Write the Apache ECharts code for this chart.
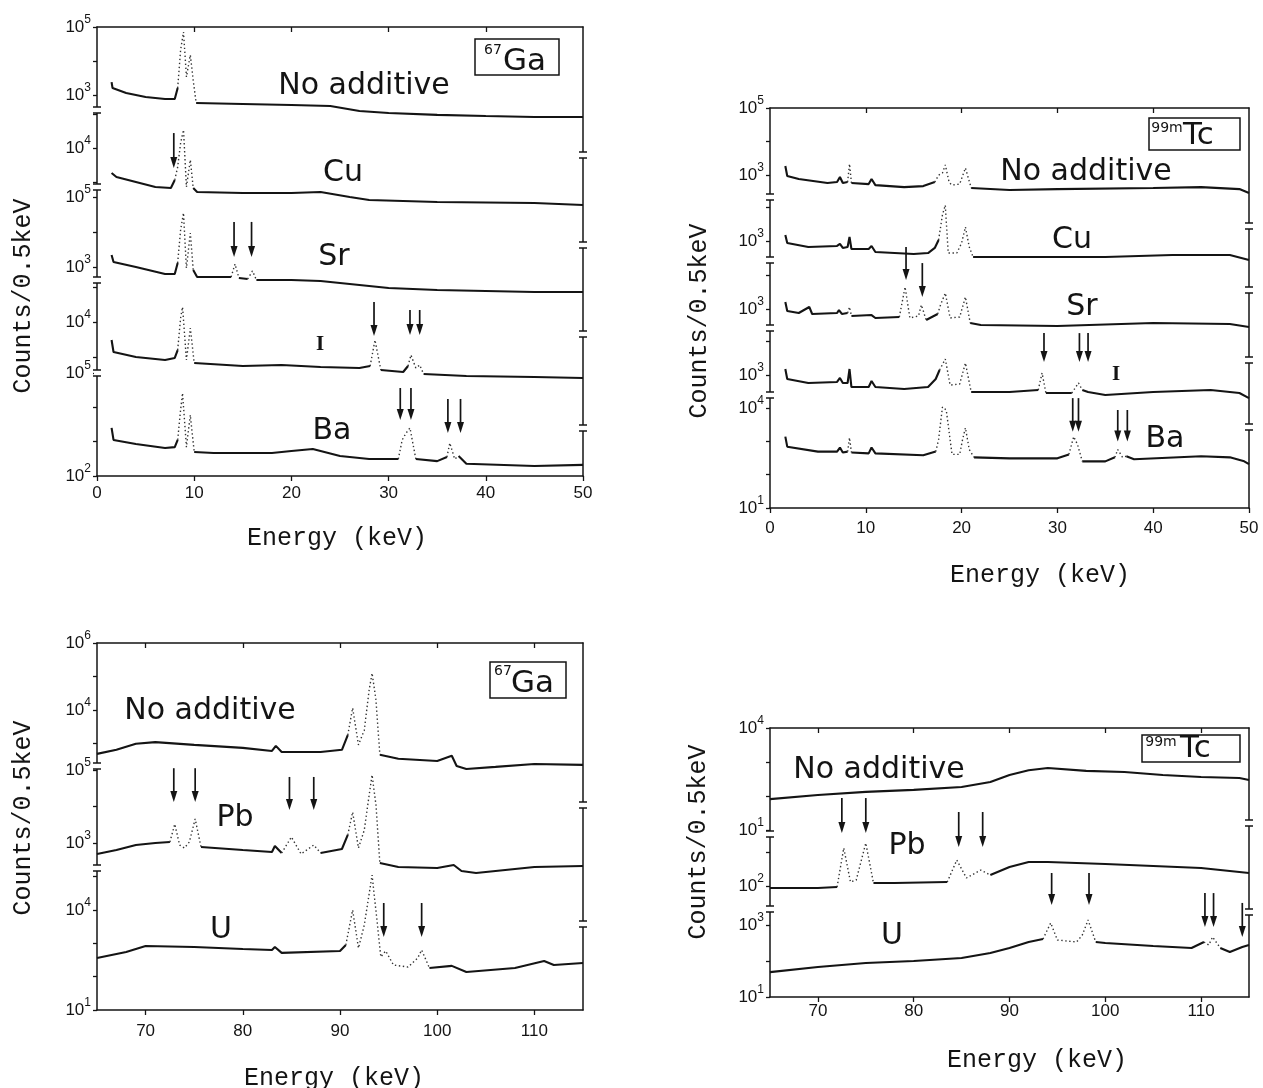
<!DOCTYPE html>
<html><head><meta charset="utf-8">
<script src="https://cdn.jsdelivr.net/npm/echarts@6/dist/echarts.min.js"></script>
<style>html,body{margin:0;padding:0;background:#fff}#c{width:1263px;height:1088px}</style>
</head><body><div id="c"></div>
<script>
// ---------- DATA: [energy keV, counts / 0.5 keV] ----------
// 67Ga, 0-50 keV
const ga_none = [[1.5,2400],[1.6,1600],[3,1150],[5,870],[7,760],[8,760],[8.3,1600],[8.6,21000],[8.9,71000],[9.2,3400],[9.6,15000],[9.9,2700],[10.2,580],[15,545],[20,510],[24,475],[27,340],[30,297],[35,260],[40,240],[45,225],[50,225]];
const ga_cu = [[1.5,1840],[2,1400],[4,1000],[6,713],[7.6,665],[8.0,1150],[8.3,2760],[8.6,14000],[8.9,34000],[9.2,713],[9.6,4450],[9.9,665],[10.3,510],[15,475],[20,475],[23,510],[26,363],[28,296],[35,258],[45,241],[50,210]];
const ga_sr = [[1.5,2200],[1.7,1390],[4,1000],[7,630],[8,630],[8.3,1300],[8.6,11400],[8.9,35000],[9.2,935],[9.6,9300],[9.9,820],[10.3,520],[13.8,520],[14.2,1220],[14.6,485],[15.5,455],[16,770],[16.4,425],[20,425],[23,400],[27,306],[30,250],[35,220],[45,193],[50,193]];
const ga_i = [[1.5,3060],[1.7,1390],[4,1000],[7,820],[8,940],[8.3,1580],[8.6,13000],[8.8,26800],[9.2,820],[9.6,6700],[10,675],[15,553],[19,590],[23,518],[27,485],[28.1,553],[28.6,3060],[29.2,425],[31.5,372],[32,553],[32.3,1140],[32.8,485],[33.2,590],[33.6,326],[38,286],[45,268],[50,250]];
const ga_ba = [[1.5,2500],[1.7,1120],[4,850],[7,650],[8,690],[8.3,1120],[8.6,8300],[8.8,26000],[9.2,690],[9.6,5970],[10,500],[12,466],[18,466],[20,532],[22.2,610],[25,380],[28,310],[31,310],[31.4,1120],[31.8,1780],[32.2,2500],[32.8,310],[35,270],[36,355],[36.3,910],[36.8,310],[37.2,380],[38,225],[45,195],[50,210]];
// 99mTc, 0-50 keV
const tc_none = [[1.6,1860],[1.8,930],[3,760],[6,575],[7,615],[7.3,870],[7.6,575],[8.1,615],[8.3,2140],[8.5,575],[10.3,535],[10.6,760],[11,500],[14,435],[16,467],[17.2,615],[17.6,990],[18.0,1150],[18.3,2000],[18.7,600],[19.0,500],[19.8,535],[20.4,1620],[21.0,410],[25,355],[30,380],[40,410],[45,435],[49,380],[50,290]];
const tc_cu = [[1.6,1510],[1.8,870],[4,660],[7,710],[7.3,815],[7.6,620],[8.1,660],[8.3,1320],[8.5,577],[10.3,577],[10.6,710],[11,470],[15,410],[16.5,437],[17.2,620],[17.6,1070],[18.0,6000],[18.3,11800],[18.6,437],[19.5,437],[20.0,870],[20.4,2620],[20.8,660],[21.2,333],[25,333],[35,333],[42,382],[48,382],[50,270]];
const tc_sr = [[1.6,1620],[1.8,870],[3,760],[4.1,1150],[4.4,710],[7,760],[7.2,930],[7.5,710],[8.1,760],[8.3,1150],[8.5,620],[10.6,660],[11,540],[13.5,577],[14.1,4540],[14.6,540],[15.5,620],[15.8,1320],[16.3,470],[17.5,710],[17.8,1320],[18.3,3000],[18.8,540],[19.8,577],[20.4,2280],[20.9,382],[22,333],[30,310],[40,382],[48,357],[50,290]];
const tc_i = [[1.6,1510],[1.8,760],[4,577],[7,620],[7.3,815],[7.6,577],[8.1,577],[8.3,1510],[8.5,437],[10.3,437],[10.6,660],[11,437],[14,382],[16.5,437],[17.3,760],[17.7,1410],[18.3,3000],[18.8,500],[19.0,470],[19.8,540],[20.4,2280],[21.0,310],[25,310],[28,357],[28.4,1150],[28.8,290],[31.5,290],[32.2,577],[32.6,357],[33.2,310],[35,252],[40,310],[46,357],[49,290],[50,205]];
const tc_ba = [[1.6,1380],[1.8,690],[5,490],[7,490],[7.3,650],[7.6,460],[8.1,490],[8.3,1290],[8.5,460],[10.3,433],[10.6,650],[11,433],[16,380],[17.3,490],[17.6,1120],[18.0,10700],[18.4,8700],[18.8,1120],[19.0,404],[19.8,404],[20.1,1120],[20.4,2550],[20.8,565],[21.3,330],[25,308],[30,308],[31.2,404],[31.7,1380],[32.1,800],[32.6,250],[35,250],[36.0,330],[36.3,565],[36.8,330],[37.2,355],[38,290],[45,355],[48,330],[49.5,250],[50,205]];
// 67Ga, 65-115 keV
const gah_none = [[65,490],[67,650],[69,980],[71,1100],[75,910],[80,740],[83,600],[83.4,850],[84,560],[88,560],[90.2,650],[90.8,1780],[91.3,11500],[91.9,910],[92.5,2500],[93.0,40000],[93.3,126000],[93.7,20000],[94.1,460],[96,350],[100,300],[101.5,430],[102,213],[103,174],[106,200],[110,245],[115,230]];
const gah_pb = [[65,500],[67,640],[69,880],[71,1000],[72.5,1065],[73.0,3300],[73.5,880],[74.0,730],[74.5,1065],[75.1,4540],[75.7,775],[80,640],[83,567],[83.3,830],[84,533],[85,1460],[86,500],[87.3,880],[88,533],[90.2,685],[90.8,1660],[91.3,7060],[91.9,730],[92.5,2270],[93.0,20600],[93.3,73000],[93.7,11000],[94.1,283],[96,220],[100,207],[101.7,250],[102.5,171],[104,150],[110,220],[115,235]];
const gah_u = [[65,363],[68,550],[70,830],[75,775],[80,675],[83,630],[83.3,775],[84,515],[90,590],[90.6,890],[91.3,10000],[91.9,720],[92.5,3550],[93.3,112000],[93.8,5000],[94.2,390],[94.7,590],[95.5,223],[97,194],[98,363],[98.4,630],[99.2,182],[101.5,210],[103,138],[108,182],[111,294],[112,223],[115,256]];
// 99mTc, 65-115 keV
const tch_none = [[65,81],[70,107],[75,132],[80,151],[85,183],[88,258],[90,414],[92,575],[94,665],[98,547],[102,510],[106,414],[110,362],[114,338],[115,294]];
const tch_pb = [[65,87],[70,87],[72,93],[72.7,1310],[73.4,131],[74,150],[75,1830],[75.8,122],[78,122],[83.5,131],[84.5,580],[85.5,172],[87,295],[88,210],[90,362],[92,510],[94,510],[100,443],[105,388],[110,338],[115,240]];
const tch_u = [[65,49],[70,68],[75,88],[80,100],[85,121],[88,167],[90,230],[92,337],[93.5,408],[94.3,1140],[95,383],[97,337],[97.6,527],[98.2,1380],[99,337],[100,316],[105,261],[109,230],[110.3,337],[110.8,278],[111.2,464],[112,230],[113,178],[114.3,245],[115,278]];

// arrows: [energy, tail counts, tip counts]
const ga_cu_arrows = [[7.9,27500,2600]];
const ga_sr_arrows = [[14.1,19400,1940],[15.9,19400,1940]];
const ga_i_arrows = [[28.5,37300,4000],[32.2,22000,4250],[33.2,22000,4250]];
const ga_ba_arrows = [[31.2,36500,4240],[32.3,36500,4240],[36.1,17500,1780],[37.4,17500,1780]];
const tc_sr_arrows = [[14.2,71000,7400],[15.9,23500,2280]];
const tc_i_arrows = [[28.6,17800,2450],[32.3,17800,2450],[33.2,17800,2450]];
const tc_ba_arrows = [[31.6,19800,1940],[32.2,19800,1940],[36.3,8720,980],[37.3,8720,980]];
const gah_pb_arrows = [[72.9,112000,13200],[75.1,112000,13200],[84.8,64500,8000],[87.3,64500,8000]];
const gah_u_arrows = [[94.5,16200,1550],[98.4,16200,1550]];
const tch_pb_arrows = [[72.5,38600,3630],[75.0,38600,3630],[84.7,15000,1410],[87.2,15000,1410]];
const tch_u_arrows = [[94.4,27800,3600],[98.3,27800,3600],[110.4,7700,880],[111.3,7700,880],[114.3,4100,464]];

// tick labels
const xLabelsLow = [0,10,20,30,40,50];
const xLabelsHigh = [70,80,90,100,110];

// ---------- LAYOUT ----------
const INK = '#141414';
const panels = [
 {left:97,right:583,top:27,bottom:476,xmin:0,xmax:50,xl:xLabelsLow,xt:xLabelsLow,tt:[10,20,30,40],xm:9,
  lb:[110,187,280,373], rb:[155,245,334,428],
  segs:[
   {top:27,bottom:110,dec:5,ref:27,ppd:34,labels:[5,3],ticks:[3,4,5],data:ga_none,dot:[[8.2,10.1]],arrows:[]},
   {top:110,bottom:187,dec:4,ref:148,ppd:34,labels:[4],ticks:[3,4,5],data:ga_cu,dot:[[7.9,10.1]],arrows:ga_cu_arrows},
   {top:187,bottom:280,dec:5,ref:197,ppd:35,labels:[5,3],ticks:[3,4,5],data:ga_sr,dot:[[8.2,10.1],[13.9,14.6],[15.6,16.4]],arrows:ga_sr_arrows},
   {top:280,bottom:373,dec:4,ref:322,ppd:35,labels:[4],ticks:[3,4,5],data:ga_i,dot:[[8.2,10.1],[28.0,29.3],[31.8,33.5]],arrows:ga_i_arrows},
   {top:373,bottom:476,dec:5,ref:373,ppd:34.3,labels:[5,2],ticks:[2,3,4,5],data:ga_ba,dot:[[8.2,10.1],[31.0,32.9],[35.8,37.5]],arrows:ga_ba_arrows}
  ],
  texts:[['No additive',364,86],['Cu',343,173],['Sr',334,257],['Ba',332,431]],
  serifI:[320,345],
  box:{x1:475,y1:39,x2:559,y2:75,sup:'67',sx:493,sy:50,main:'Ga',mx:503,my:62},
  ytitle:[23,296], xtitle:[337,538]},
 {left:770,right:1249,top:108,bottom:508,xmin:0,xmax:50,xl:xLabelsLow,xt:xLabelsLow,tt:[10,20,30,40],xm:12,
  lb:[197,260,328,395], rb:[226,290,360,427],
  segs:[
   {top:108,bottom:197,dec:5,ref:108,ppd:33.5,labels:[5,3],ticks:[3,4,5],data:tc_none,dot:[[8.1,8.6],[17.2,21.1]],arrows:[]},
   {top:197,bottom:260,dec:3,ref:241,ppd:33.5,labels:[3],ticks:[3,4],data:tc_cu,dot:[[17.4,21.2]],arrows:[]},
   {top:260,bottom:328,dec:3,ref:309,ppd:33.5,labels:[3],ticks:[3,4],data:tc_sr,dot:[[8.1,8.6],[13.7,16.4],[17.6,21.0]],arrows:tc_sr_arrows},
   {top:328,bottom:395,dec:3,ref:375,ppd:33.5,labels:[3],ticks:[3,4],data:tc_i,dot:[[17.5,21.0],[28.1,28.9],[31.8,32.7]],arrows:tc_i_arrows},
   {top:395,bottom:508,dec:4,ref:408,ppd:33.3,labels:[4,1],ticks:[1,2,3,4],data:tc_ba,dot:[[8.1,8.6],[17.4,21.3],[31.1,32.7],[36.0,37.3]],arrows:tc_ba_arrows}
  ],
  texts:[['No additive',1086,172],['Cu',1072,240],['Sr',1082,307],['Ba',1165,439]],
  serifI:[1116,375],
  box:{x1:1149,y1:118,x2:1240,y2:150,sup:'99m',sx:1167,sy:128,main:'Tc',mx:1183,my:136},
  ytitle:[699,321], xtitle:[1040,575]},
 {left:97,right:583,top:643,bottom:1010,xmin:65,xmax:115,xl:xLabelsHigh,xt:xLabelsHigh,tt:xLabelsHigh,xm:13,
  lb:[766,868], rb:[805,924],
  segs:[
   {top:643,bottom:766,dec:6,ref:643,ppd:33.5,labels:[6,4],ticks:[3,4,5,6],data:gah_none,dot:[[90.5,94.2]],arrows:[]},
   {top:766,bottom:868,dec:3,ref:843,ppd:36.5,labels:[5,3],ticks:[3,4,5],data:gah_pb,dot:[[72.6,75.8],[84.2,88.0],[90.5,94.2]],arrows:gah_pb_arrows},
   {top:868,bottom:1010,dec:4,ref:910,ppd:33.3,labels:[4,1],ticks:[1,2,3,4,5],data:gah_u,dot:[[90.5,99.3]],arrows:gah_u_arrows}
  ],
  texts:[['No additive',210,711],['Pb',235,818],['U',221,930]],
  serifI:null,
  box:{x1:490,y1:662,x2:566,y2:698,sup:'67',sx:503,sy:671,main:'Ga',mx:511,my:684},
  ytitle:[23,818], xtitle:[334,1078]},
 {left:770,right:1249,top:728,bottom:997,xmin:65,xmax:115,xl:xLabelsHigh,xt:xLabelsHigh,tt:xLabelsHigh,xm:6,
  lb:[834,909], rb:[823,912],
  segs:[
   {top:728,bottom:834,dec:4,ref:728,ppd:34,labels:[4,1],ticks:[1,2,3,4],data:tch_none,dot:[],arrows:[]},
   {top:834,bottom:909,dec:2,ref:886,ppd:34,labels:[2],ticks:[2,3],data:tch_pb,dot:[[72.0,76.0],[83.8,87.8]],arrows:tch_pb_arrows},
   {top:909,bottom:997,dec:3,ref:925,ppd:36,labels:[3,1],ticks:[1,2,3],data:tch_u,dot:[[93.5,99.0],[110.0,111.8]],arrows:tch_u_arrows}
  ],
  texts:[['No additive',879,770],['Pb',907,846],['U',892,936]],
  serifI:null,
  box:{x1:1142,y1:735,x2:1240,y2:762,sup:'99m',sx:1161,sy:742,main:'Tc',mx:1180,my:749},
  ytitle:[698,842], xtitle:[1037,1060]}
];

function splitDotted(points, ranges) {
  const inside = e => ranges.some(r => e > r[0] && e < r[1]);
  const solid = [], dotted = [];
  const last = {s: -1, d: -1};
  for (let i = 0; i < points.length - 1; i++) {
    const a = points[i], b = points[i + 1];
    const isDot = inside((a[0] + b[0]) / 2);
    const arr = isDot ? dotted : solid;
    const k = isDot ? 'd' : 's';
    if (last[k] !== i) {
      if (arr.length) arr.push([a[0], '-']);
      arr.push(a);
    }
    arr.push(b);
    last[k] = i + 1;
  }
  return {solid, dotted};
}

function renderArrow(params, api) {
  const e = api.value(0);
  const p1 = api.coord([e, api.value(1)]);
  const p2 = api.coord([e, api.value(2)]);
  const hw = 3.5, hl = 11;
  return {type:'group', children:[
    {type:'line', shape:{x1:p1[0], y1:p1[1], x2:p2[0], y2:p2[1] - hl + 2}, style:{stroke:INK, lineWidth:1.7}},
    {type:'polygon', shape:{points:[[p2[0] - hw, p2[1] - hl], [p2[0] + hw, p2[1] - hl], [p2[0], p2[1]]]}, style:{fill:INK}}
  ]};
}

const grids = [], xAxes = [], yAxes = [], series = [], graphics = [];
const lineW = 1.5;

function breakMark(x, y) {
  graphics.push({type:'rect', z:100, shape:{x:x-3, y:y-3, width:6, height:6}, style:{fill:'#fff'}});
  graphics.push({type:'line', z:101, shape:{x1:x-4, y1:y-3, x2:x+4, y2:y-3}, style:{stroke:INK, lineWidth:1.5}});
  graphics.push({type:'line', z:101, shape:{x1:x-4, y1:y+3, x2:x+4, y2:y+3}, style:{stroke:INK, lineWidth:1.5}});
}

panels.forEach(p => {
  const W = p.right - p.left;
  const gi = grids.length;
  grids.push({left:p.left, top:p.top, width:W, height:p.bottom - p.top, show:false, outerBoundsMode:'none'});
  xAxes.push({gridIndex:gi, type:'value', position:'bottom', min:p.xmin, max:p.xmax,
    axisLine:{show:true, onZero:false, lineStyle:{color:INK, width:lineW}},
    axisTick:{show:true, inside:false, length:5, customValues:p.xt, lineStyle:{color:INK, width:1.3}},
    axisLabel:{show:true, customValues:p.xl, margin:p.xm, fontFamily:'Liberation Sans', fontSize:17, color:INK},
    splitLine:{show:false}});
  xAxes.push({gridIndex:gi, type:'value', position:'top', min:p.xmin, max:p.xmax,
    axisLine:{show:true, onZero:false, lineStyle:{color:INK, width:lineW}},
    axisTick:{show:true, inside:true, length:5, customValues:p.tt, lineStyle:{color:INK, width:1.3}},
    axisLabel:{show:false}, splitLine:{show:false}});
  yAxes.push({gridIndex:gi, type:'value', position:'left', min:0, max:1,
    axisLine:{show:true, onZero:false, lineStyle:{color:INK, width:lineW}},
    axisTick:{show:false}, axisLabel:{show:false}, splitLine:{show:false}});
  yAxes.push({gridIndex:gi, type:'value', position:'right', min:0, max:1,
    axisLine:{show:true, onZero:false, lineStyle:{color:INK, width:lineW}},
    axisTick:{show:false}, axisLabel:{show:false}, splitLine:{show:false}});

  p.segs.forEach(s => {
    const g = grids.length;
    grids.push({left:p.left, top:s.top, width:W, height:s.bottom - s.top, show:false, outerBoundsMode:'none'});
    const xi = xAxes.length;
    xAxes.push({gridIndex:g, type:'value', min:p.xmin, max:p.xmax, show:false});
    const yi = yAxes.length;
    yAxes.push({gridIndex:g, type:'log', logBase:10, position:'left',
      min: Math.pow(10, s.dec - (s.bottom - s.ref) / s.ppd),
      max: Math.pow(10, s.dec + (s.ref - s.top) / s.ppd),
      axisLine:{show:false},
      axisTick:{show:true, inside:false, length:4, customValues:s.ticks.map(d => Math.pow(10, d)), lineStyle:{color:INK, width:1.3}},
      axisLabel:{show:true, margin:6, customValues:s.labels.map(d => Math.pow(10, d)),
        formatter: v => '{b|10}{s|' + Math.round(Math.log10(v)) + '}',
        rich:{b:{fontFamily:'Liberation Sans', fontSize:17, color:INK, lineHeight:26},
              s:{fontFamily:'Liberation Sans', fontSize:12, color:INK, lineHeight:12, verticalAlign:'top'}}},
      splitLine:{show:false}, minorTick:{show:false}});
    const parts = splitDotted(s.data, s.dot);
    series.push({type:'line', xAxisIndex:xi, yAxisIndex:yi, data:parts.solid, symbol:'none', showSymbol:false,
      clip:false, silent:true, animation:false, connectNulls:false,
      lineStyle:{color:INK, width:2.1}});
    series.push({type:'line', xAxisIndex:xi, yAxisIndex:yi, data:parts.dotted, symbol:'none', showSymbol:false,
      clip:false, silent:true, animation:false, connectNulls:false,
      lineStyle:{color:'#333', width:1.4, type:[1.4, 2.6]}});
    if (s.arrows.length) {
      series.push({type:'custom', xAxisIndex:xi, yAxisIndex:yi, data:s.arrows, clip:false, silent:true,
        animation:false, encode:{x:0, y:[1, 2]}, renderItem:renderArrow});
    }
  });

  p.lb.forEach(y => breakMark(p.left, y));
  p.rb.forEach(y => breakMark(p.right, y));

  p.texts.forEach(t => graphics.push({type:'text', z:110, x:t[1], y:t[2],
    style:{text:t[0], fontFamily:'DejaVu Sans', fontSize:30, fill:INK, align:'center', verticalAlign:'middle'}}));
  if (p.serifI) graphics.push({type:'text', z:110, x:p.serifI[0], y:p.serifI[1],
    style:{text:'I', fontFamily:'Liberation Serif', fontWeight:'bold', fontSize:21, fill:INK, align:'center', verticalAlign:'middle'}});
  const b = p.box;
  graphics.push({type:'rect', z:110, shape:{x:b.x1, y:b.y1, width:b.x2 - b.x1, height:b.y2 - b.y1},
    style:{fill:'#fff', stroke:INK, lineWidth:1.5}});
  graphics.push({type:'text', z:111, x:b.sx, y:b.sy,
    style:{text:b.sup, fontFamily:'DejaVu Sans', fontSize:14, fill:INK, align:'center', verticalAlign:'middle'}});
  graphics.push({type:'text', z:111, x:b.mx, y:b.my,
    style:{text:b.main, fontFamily:'DejaVu Sans', fontSize:31, fill:INK, align:'left', verticalAlign:'middle'}});
  graphics.push({type:'text', z:110, x:p.ytitle[0], y:p.ytitle[1], rotation:Math.PI / 2,
    style:{text:'Counts/0.5keV', fontFamily:'Liberation Mono', fontSize:25, fill:INK, align:'center', verticalAlign:'middle'}});
  graphics.push({type:'text', z:110, x:p.xtitle[0], y:p.xtitle[1],
    style:{text:'Energy (keV)', fontFamily:'Liberation Mono', fontSize:25, fill:INK, align:'center', verticalAlign:'middle'}});
});

const chart = echarts.init(document.getElementById('c'), null, {renderer:'canvas'});
chart.setOption({
  backgroundColor:'#ffffff',
  animation:false,
  grid:grids, xAxis:xAxes, yAxis:yAxes, series:series,
  graphic:{elements:graphics}
});
</script>
</body></html>
